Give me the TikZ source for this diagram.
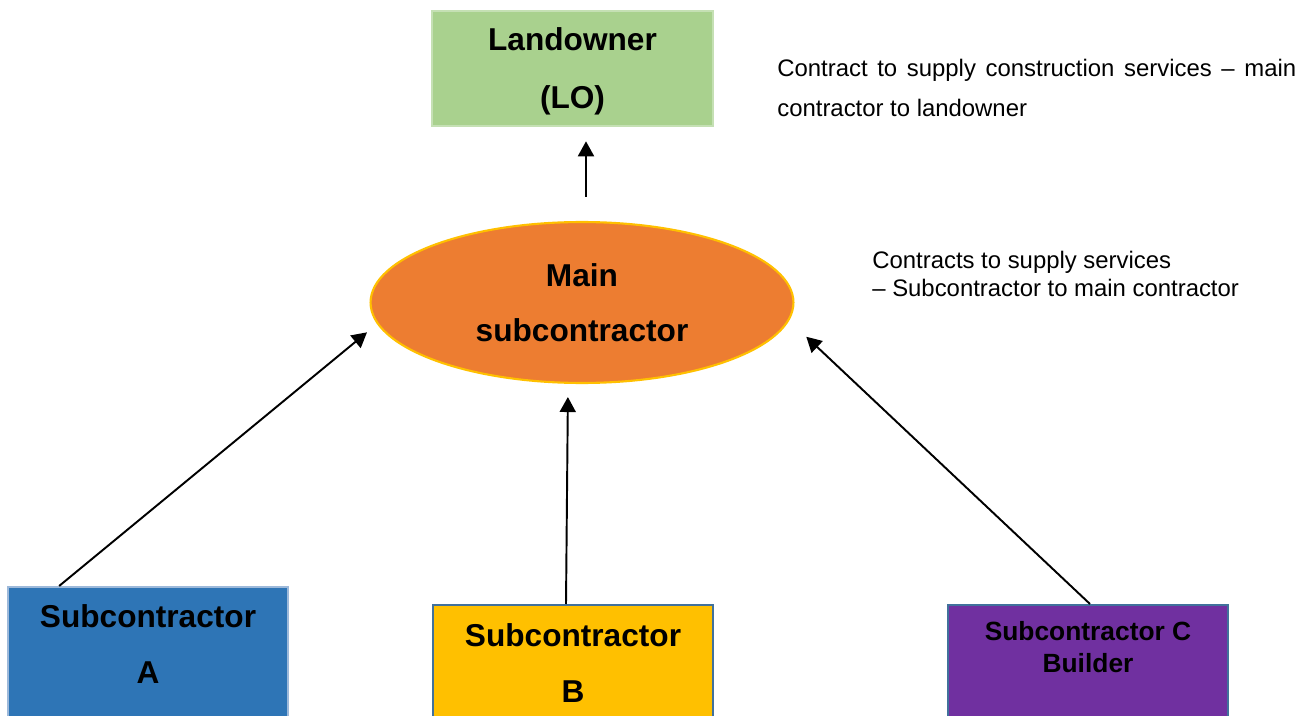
\documentclass[tikz,border=0pt]{standalone}
\usepackage{fontspec}
\setmainfont{Liberation Sans}
\usetikzlibrary{arrows.meta,shapes.geometric}

\definecolor{loGreen}{HTML}{A9D18E}
\definecolor{loEdge}{HTML}{C5E0B4}
\definecolor{mainOrange}{HTML}{ED7D31}
\definecolor{mainEdge}{HTML}{FFC000}
\definecolor{subBlue}{HTML}{2E75B6}
\definecolor{subBlueEdge}{HTML}{9DB9DA}
\definecolor{subGold}{HTML}{FFC000}
\definecolor{subPurple}{HTML}{7030A0}
\definecolor{subEdge}{HTML}{41719C}

\begin{document}
\begin{tikzpicture}[x=0.02cm, y=-0.02cm,
    arr/.style={line width=1.1pt, -{Triangle[length=0.3cm,width=0.32cm]}},
    bigtext/.style={font=\bfseries\fontsize{18}{31.5}\selectfont},
    subbox/.style={bigtext, draw=subEdge, line width=1pt, rectangle, minimum width=5.6cm,
                   anchor=north, align=center, text depth=3cm},
    note/.style={anchor=north west, inner sep=0pt}]
    \clip (0,0) rectangle (1309,716);

    % landowner
    \node[draw=loEdge, fill=loGreen, line width=1.5pt, minimum width=5.62cm, minimum height=2.3cm,
          align=center, text depth=-0.12cm, font=\bfseries\fontsize{18}{33}\selectfont]
          (lo) at (572.5,68.5) {Landowner\\(LO)};

    % main subcontractor
    \node[bigtext, ellipse, draw=mainEdge, fill=mainOrange, line width=1.2pt, minimum width=8.46cm,
          minimum height=3.22cm, inner sep=0pt, align=center] (main) at (582,302.5) {Main\\subcontractor};

    % subcontractors
    \node[subbox, draw=subBlueEdge, fill=subBlue, inner ysep=0.36cm] (suba) at (148,586) {Subcontractor\\A};
    \node[subbox, fill=subGold, inner ysep=0.38cm] (subb) at (573,604) {Subcontractor\\B};
    \node[subbox, fill=subPurple, inner ysep=0.33cm, font=\bfseries\fontsize{15}{18}\selectfont]
          (subc) at (1088,604) {Subcontractor C\\Builder};

    % notes
    \node[note, text width=10.38cm, align=justify, font=\fontsize{13.6}{22.7}\selectfont] (lonote) at (777,58.6)
          {Contract to supply construction services – main\linebreak contractor to landowner};
    \node[note, align=left, font=\fontsize{13.6}{15.9}\selectfont] (subnote) at (872,250.6)
          {Contracts to supply services\\– Subcontractor to main contractor};

    % arrows
    \draw[arr, shorten <=0.48cm, shorten >=0.28cm] ([xshift=0.08cm]main.north) -- ([xshift=0.08cm]main.north |- lo.south);
    \draw[arr, shorten >=0.26cm] ([xshift=1.04cm]suba.north west) -- (main.186.8);
    \draw[arr, shorten >=0.26cm] ([xshift=-0.14cm]subb.north) -- ([xshift=-0.28cm]main.south);
    \draw[arr, shorten >=0.47cm] ([xshift=0.04cm]subc.north) -- (main.355.5);
\end{tikzpicture}
\end{document}
